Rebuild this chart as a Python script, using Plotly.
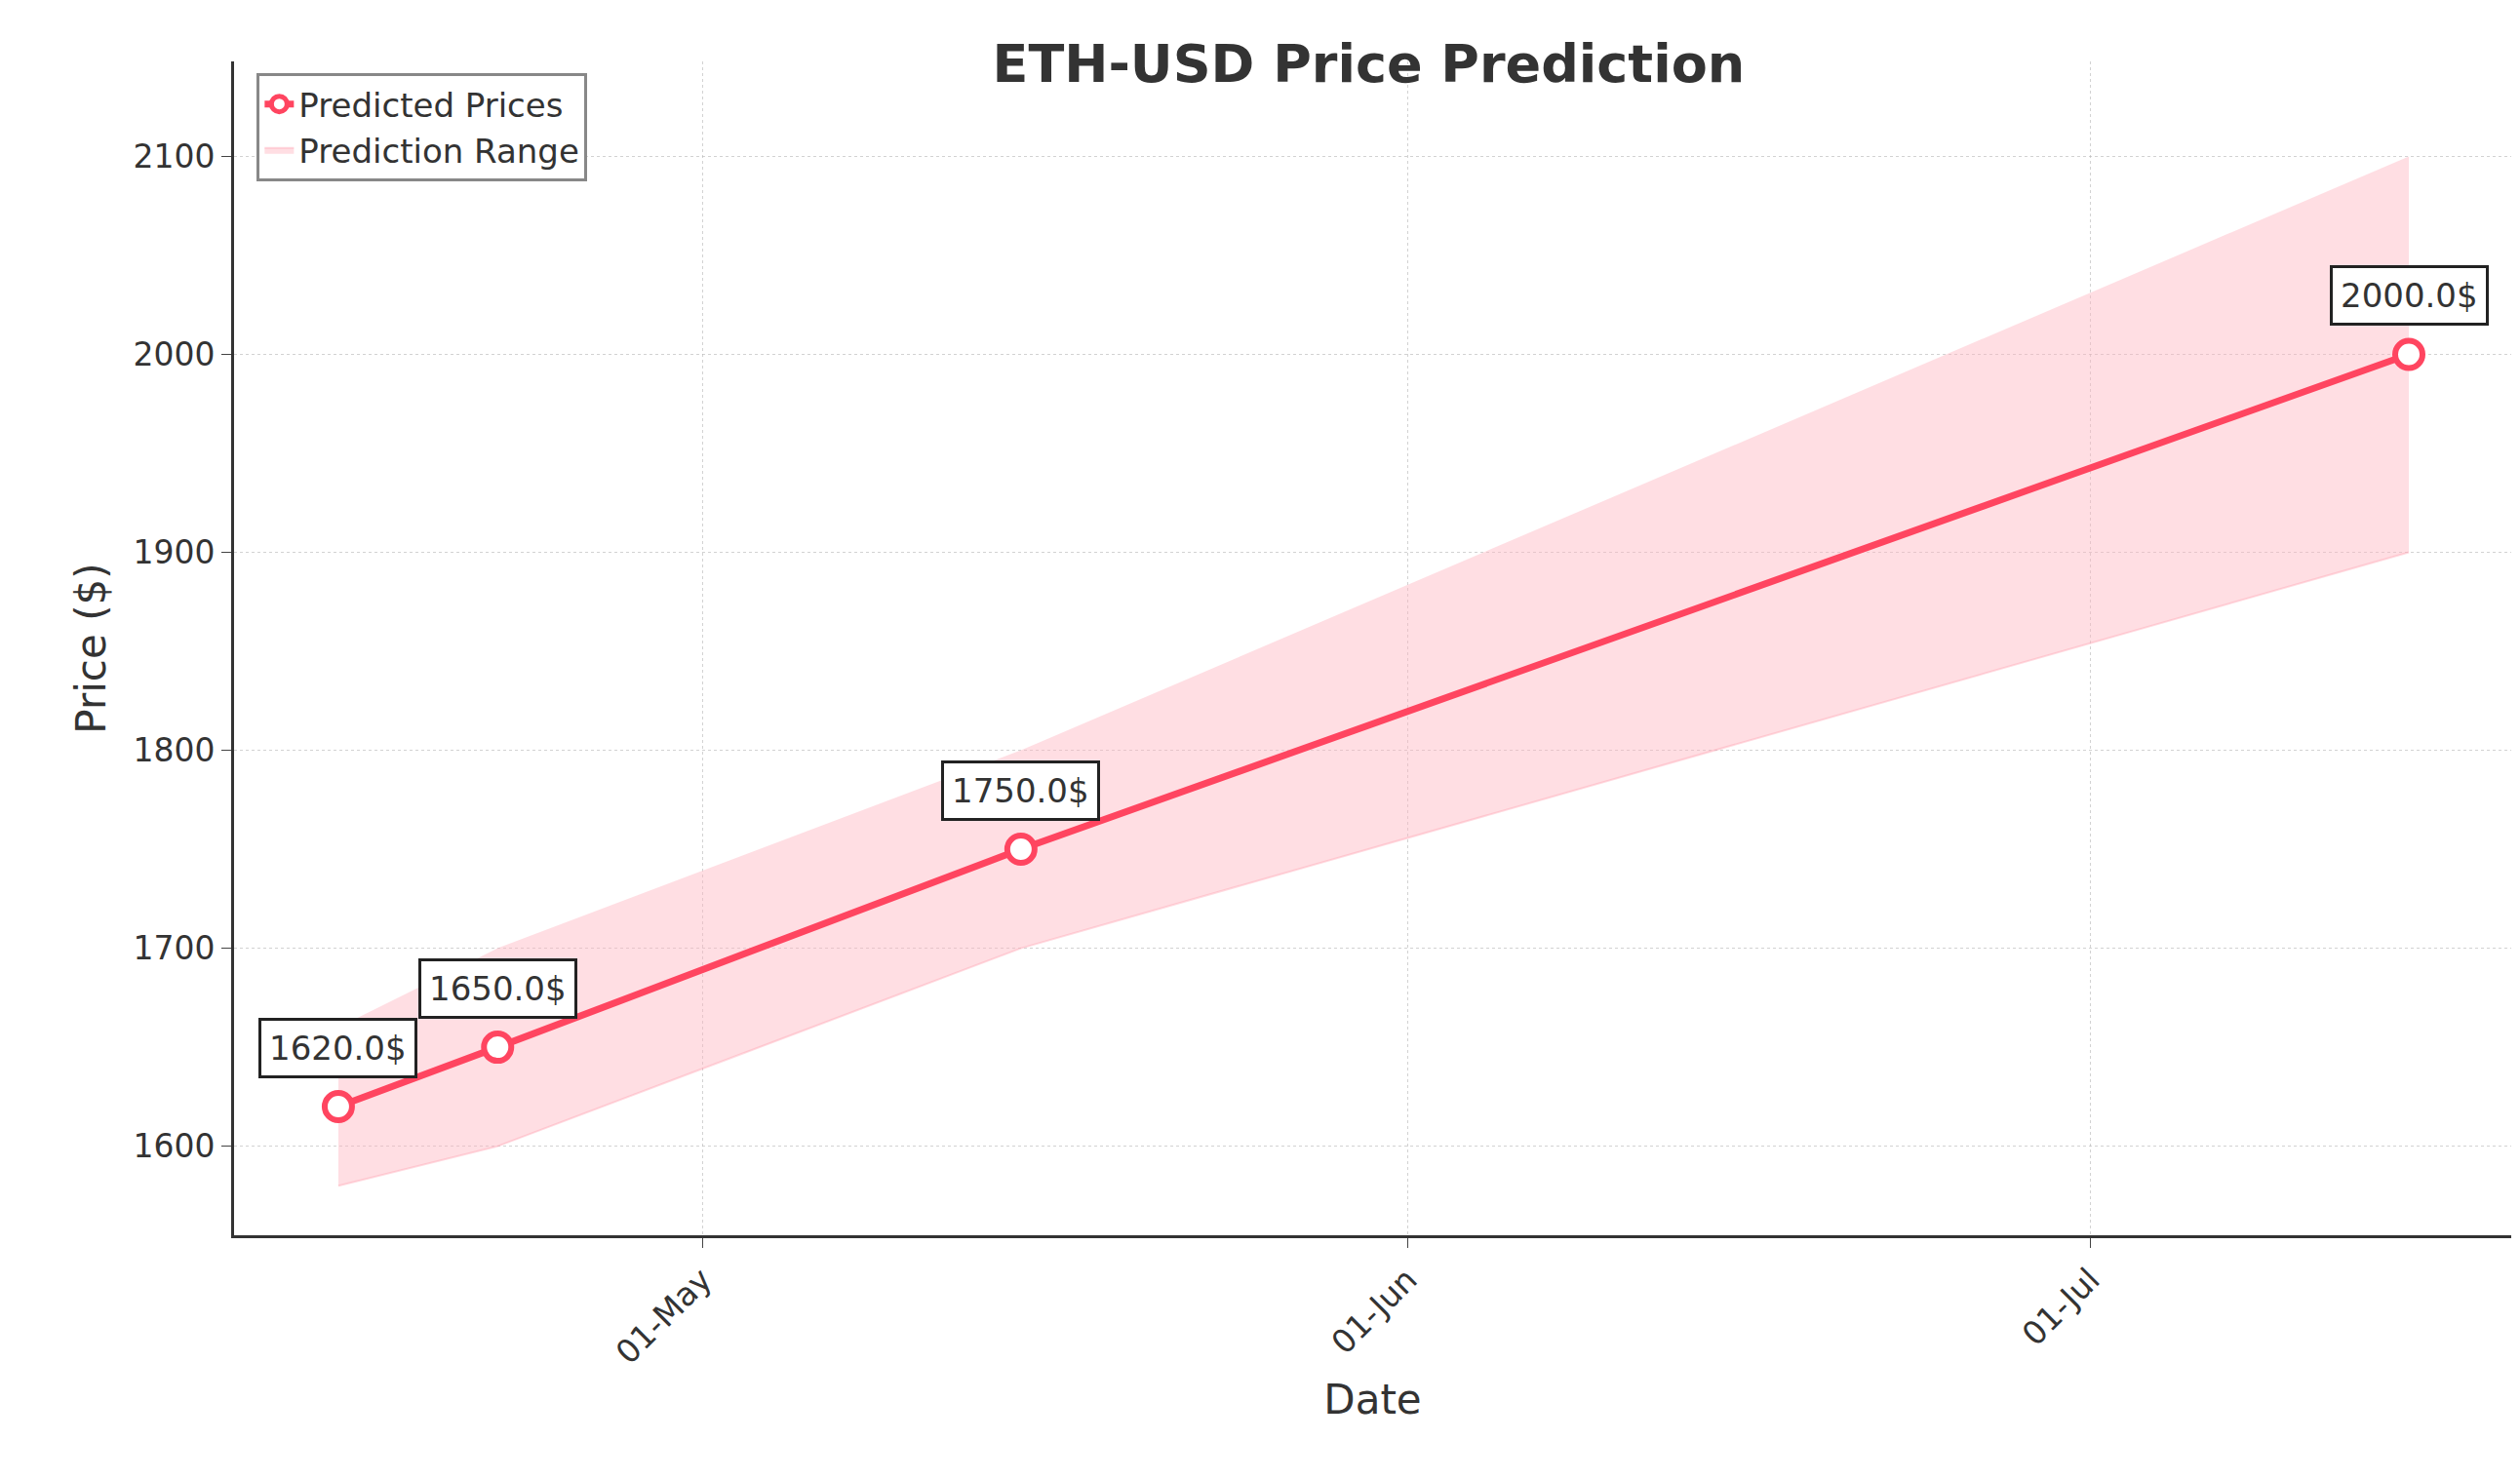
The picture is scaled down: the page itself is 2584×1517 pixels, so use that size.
import plotly.graph_objects as go

dates = ["2023-04-15", "2023-04-22", "2023-05-15", "2023-07-15"]
predicted = [1620, 1650, 1750, 2000]
lower = [1580, 1600, 1700, 1900]
upper = [1660, 1700, 1800, 2100]

red = "#ff4560"
fig = go.Figure()

fig.add_trace(go.Scatter(x=dates, y=upper, mode="lines", line=dict(width=0),
                         showlegend=False, hoverinfo="skip"))
fig.add_trace(go.Scatter(x=dates, y=lower, mode="lines", fill="tonexty",
                         fillcolor="rgba(255,182,193,0.45)",
                         line=dict(width=2, color="rgba(255,160,175,0.4)"),
                         name="Prediction Range"))
fig.add_trace(go.Scatter(x=dates, y=predicted, mode="lines+markers", name="Predicted Prices",
                         line=dict(color=red, width=7),
                         marker=dict(size=28, color="white", line=dict(color=red, width=6))))

for d, p in zip(dates, predicted):
    fig.add_annotation(x=d, y=p, text=f"{p:.1f}$", showarrow=False, yshift=60,
                       font=dict(size=34, color="#333"), bgcolor="white",
                       bordercolor="#222", borderwidth=3, borderpad=8)

grid = "rgba(180,180,180,0.6)"
fig.update_layout(
    width=2584, height=1517,
    paper_bgcolor="white", plot_bgcolor="white",
    font=dict(family="DejaVu Sans", color="#333"),
    title=dict(text="<b>ETH-USD Price Prediction</b>", x=0.54, xanchor="center",
               y=0.975, font=dict(size=54, color="#333")),
    margin=dict(l=232, r=17, t=55, b=258),
    legend=dict(x=0.01, y=0.99, xanchor="left", yanchor="top", font=dict(size=34),
                bordercolor="#888", borderwidth=3, bgcolor="white", traceorder="reversed"),
    xaxis=dict(title=dict(text="Date", font=dict(size=42)), range=["2023-04-10 10:00", "2023-07-19 12:00"],
               tickvals=["2023-05-01", "2023-06-01", "2023-07-01"], tickformat="%d-%b",
               tickangle=-45, tickfont=dict(size=33), showgrid=True, gridcolor=grid, griddash="dot",
               showline=True, linecolor="#333", linewidth=3, ticks="outside", ticklen=10,
               zeroline=False),
    yaxis=dict(title=dict(text="Price ($)", font=dict(size=42)), range=[1555, 2148],
               tickvals=[1600, 1700, 1800, 1900, 2000, 2100], tickfont=dict(size=33),
               showgrid=True, gridcolor=grid, griddash="dot",
               showline=True, linecolor="#333", linewidth=3, ticks="outside", ticklen=10,
               zeroline=False),
)

fig.write_html("out.html")
